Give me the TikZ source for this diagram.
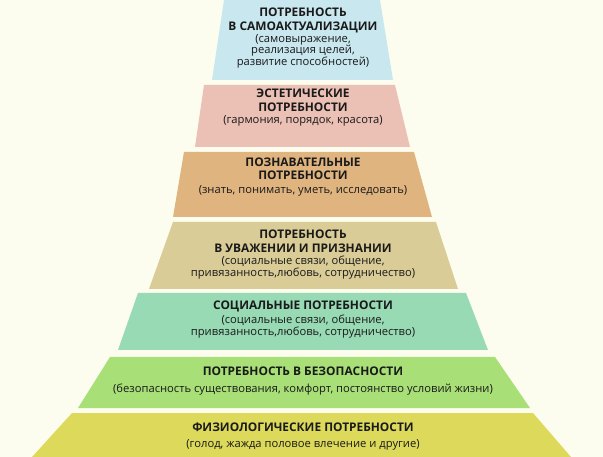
\documentclass[tikz,border=0pt]{standalone}
\usepackage{fontspec}
\setmainfont{Open Sans}
\definecolor{bg}{HTML}{FCFDEE}
\definecolor{c1}{HTML}{C9E7EF}
\definecolor{c2}{HTML}{EBC0B5}
\definecolor{c3}{HTML}{E0B47F}
\definecolor{c4}{HTML}{D9CC96}
\definecolor{c5}{HTML}{97DAB4}
\definecolor{c6}{HTML}{A8DF76}
\definecolor{c7}{HTML}{DCD95B}
\definecolor{txt}{HTML}{1A1A1A}
\tikzset{
  ttl/.style={font=\fontsize{11.9}{13}\selectfont\bfseries, text=txt, inner sep=0pt, anchor=base},
  sub/.style={font=\fontsize{11.2}{12}\selectfont, text=txt, inner sep=0pt, anchor=base}
}
\begin{document}
\begin{tikzpicture}[x=1pt,y=-1pt]
\fill[bg] (0,0) rectangle (603,457);
\useasboundingbox (0,0) rectangle (603,457);
% layers
\fill[c1] (224,0) -- (380,0) -- (393,80) -- (212,80) -- cycle;
\fill[c2] (204,85) -- (395,85) -- (410,147) -- (195,147) -- cycle;
\fill[c3] (184,152) -- (414,152) -- (432,217) -- (173,217) -- cycle;
\fill[c4] (173,222) -- (436,222) -- (458,289) -- (149,289) -- cycle;
\fill[c5] (138,293) -- (466,293) -- (488,350) -- (118,350) -- cycle;
\fill[c6] (110,357) -- (495,357) -- (530,408) -- (78,408) -- cycle;
\fill[c7] (72,413) -- (533,413) -- (571,457) -- (32,457) -- cycle;
% texts
\def\cx{303}
\node[ttl] (l1a) at (\cx,17) {ПОТРЕБНОСТЬ};
\node[ttl] (l1b) at (\cx,31) {В САМОАКТУАЛИЗАЦИИ};
\node[sub] (l1c) at (\cx,43) {(самовыражение,};
\node[sub] (l1d) at (\cx,54) {реализация целей,};
\node[sub] (l1e) at (\cx,66) {развитие способностей)};
\node[ttl] (l2a) at (\cx,98) {ЭСТЕТИЧЕСКИЕ};
\node[ttl] (l2b) at (\cx,112) {ПОТРЕБНОСТИ};
\node[sub] (l2c) at (\cx,124) {(гармония, порядок, красота)};
\node[ttl] (l3a) at (\cx,167) {ПОЗНАВАТЕЛЬНЫЕ};
\node[ttl] (l3b) at (\cx,180) {ПОТРЕБНОСТИ};
\node[sub] (l3c) at (\cx,194) {(знать, понимать, уметь, исследовать)};
\node[ttl] (l4a) at (\cx,239) {ПОТРЕБНОСТЬ};
\node[ttl] (l4b) at (\cx,253) {В УВАЖЕНИИ И ПРИЗНАНИИ};
\node[sub] (l4c) at (\cx,265) {(социальные связи, общение,};
\node[sub] (l4d) at (\cx,277) {привязанность,любовь, сотрудничество)};
\node[ttl] (l5a) at (\cx,310) {СОЦИАЛЬНЫЕ ПОТРЕБНОСТИ};
\node[sub] (l5b) at (\cx,324) {(социальные связи, общение,};
\node[sub] (l5c) at (\cx,336) {привязанность,любовь, сотрудничество)};
\node[ttl] (l6a) at (\cx,376) {ПОТРЕБНОСТЬ В БЕЗОПАСНОСТИ};
\node[sub] (l6b) at (\cx,392) {(безопасность существования, комфорт, постоянство условий жизни)};
\node[ttl] (l7a) at (\cx,431) {ФИЗИОЛОГИЧЕСКИЕ ПОТРЕБНОСТИ};
\node[sub] (l7b) at (\cx,447) {(голод, жажда половое влечение и другие)};
\end{tikzpicture}
\end{document}
